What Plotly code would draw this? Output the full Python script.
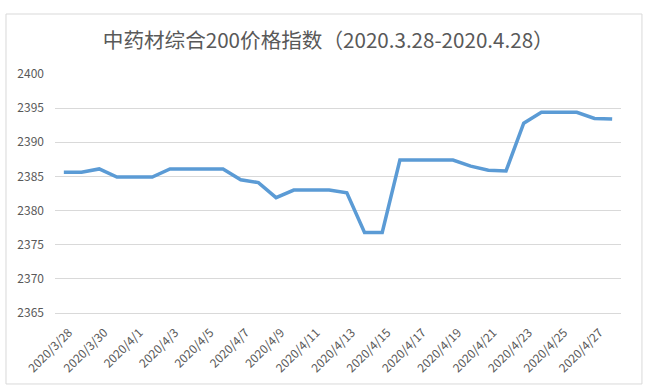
import plotly.graph_objects as go

dates = ["2020/3/28", "2020/3/29", "2020/3/30", "2020/3/31", "2020/4/1", "2020/4/2",
         "2020/4/3", "2020/4/4", "2020/4/5", "2020/4/6", "2020/4/7", "2020/4/8",
         "2020/4/9", "2020/4/10", "2020/4/11", "2020/4/12", "2020/4/13", "2020/4/14",
         "2020/4/15", "2020/4/16", "2020/4/17", "2020/4/18", "2020/4/19", "2020/4/20",
         "2020/4/21", "2020/4/22", "2020/4/23", "2020/4/24", "2020/4/25", "2020/4/26",
         "2020/4/27", "2020/4/28"]
values = [2385.6, 2385.6, 2386.1, 2384.9, 2384.9, 2384.9,
          2386.1, 2386.1, 2386.1, 2386.1, 2384.5, 2384.1,
          2381.9, 2383.0, 2383.0, 2383.0, 2382.6, 2376.8,
          2376.8, 2387.4, 2387.4, 2387.4, 2387.4, 2386.5,
          2385.9, 2385.8, 2392.8, 2394.4, 2394.4, 2394.4,
          2393.5, 2393.4]
tick_labels = dates[::2]
y_ticks = [2365, 2370, 2375, 2380, 2385, 2390, 2395, 2400]
title_text = "中药材综合200价格指数（2020.3.28-2020.4.28）"

fig = go.Figure()
fig.add_trace(go.Scatter(
    x=dates, y=values, mode="lines",
    line=dict(color="#5B9BD5", width=3.5),
    hoverinfo="x+y",
))

fig.update_layout(
    width=650, height=392,
    margin=dict(l=55, r=29, t=74, b=79),
    paper_bgcolor="white", plot_bgcolor="white",
    showlegend=False,
    font=dict(family="Noto Sans CJK SC, Noto Sans, sans-serif", color="#595959"),
    title=dict(text=title_text, x=0.505, xref="container", xanchor="center",
               y=1 - 41 / 392, yref="container", yanchor="middle",
               font=dict(size=20.6, color="#595959",
                         family="Noto Sans CJK SC, Noto Sans, sans-serif")),
    xaxis=dict(
        type="category", categoryorder="array", categoryarray=dates,
        range=[-0.5, len(dates) - 0.5],
        tickvals=tick_labels, ticktext=tick_labels,
        tickangle=-45, tickfont=dict(size=12, color="#595959"),
        showgrid=False, showline=True, linecolor="#D9D9D9", linewidth=1,
        ticks="", zeroline=False, ticklabelstandoff=7, ticklabelshift=5,
    ),
    yaxis=dict(
        range=[2365, 2400], tickvals=y_ticks,
        tickfont=dict(size=12, color="#595959"),
        showgrid=True, gridcolor="#D9D9D9", gridwidth=1,
        showline=False, zeroline=False, ticks="", ticklen=0,
        ticklabelstandoff=10,
    ),
    shapes=[dict(type="rect", xref="paper", yref="paper",
                 x0=-0.0866, x1=1.037, y0=-0.297, y1=1.251,
                 line=dict(color="#D9D9D9", width=1), fillcolor="rgba(0,0,0,0)",
                 layer="below")],
)

fig.write_html("out.html", config={"displayModeBar": False},
               post_script="document.body.style.margin='0';document.body.style.overflow='hidden';")
